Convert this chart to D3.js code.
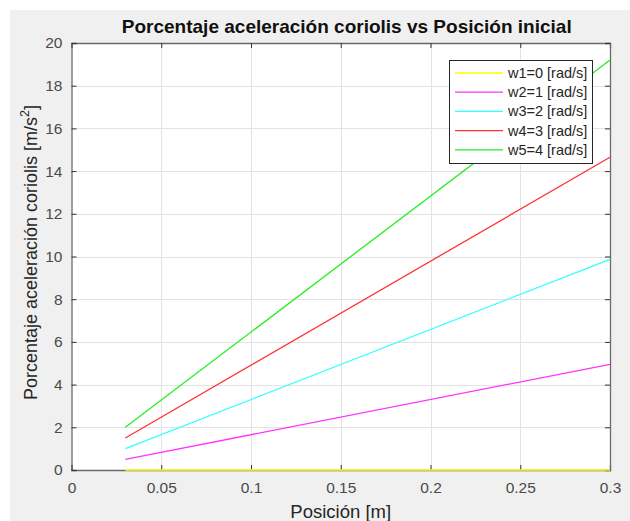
<!DOCTYPE html>
<html>
<head>
<meta charset="utf-8">
<script src="https://cdn.jsdelivr.net/npm/d3@7"></script>
<style>
  body { margin: 0; background: #fff; }
  text { font-family: Arial, "Liberation Sans", sans-serif; }
</style>
</head>
<body>
<svg id="chart" width="630" height="521"></svg>
<script>
// data (each line is straight, start + end)
const posicion = [0.03, 0.3];
const w1 = [0, 0];
const w2 = [0.5, 4.95];
const w3 = [1.0, 9.87];
const w4 = [1.5, 14.65];
const w5 = [2.0, 19.2];

const seriesNames = ["w1=0 [rad/s]", "w2=1 [rad/s]", "w3=2 [rad/s]", "w4=3 [rad/s]", "w5=4 [rad/s]"];
const seriesValues = [w1, w2, w3, w4, w5];
const seriesColors = ["#ffff00", "#ff33ff", "#33ffff", "#ff3333", "#22ee22"];

const xTicks = [0, 0.05, 0.1, 0.15, 0.2, 0.25, 0.3];
const yTicks = [0, 2, 4, 6, 8, 10, 12, 14, 16, 18, 20];

const svg = d3.select("#chart");
const W = 630, H = 521;
const m = { left: 71.5, right: 610, top: 43, bottom: 470 };

// figure background
svg.append("rect").attr("x", 10).attr("y", 10).attr("width", W - 10).attr("height", H - 10).attr("fill", "#f0f0f0");

const x = d3.scaleLinear().domain([0, 0.3]).range([m.left, m.right]);
const y = d3.scaleLinear().domain([0, 20]).range([m.bottom, m.top]);

// plot area
svg.append("rect")
  .attr("x", m.left).attr("y", m.top)
  .attr("width", m.right - m.left).attr("height", m.bottom - m.top)
  .attr("fill", "#fff");

// grid
const grid = svg.append("g");
grid.selectAll(".gx").data(xTicks.slice(1, -1)).enter().append("line")
  .attr("x1", d => Math.round(x(d)) + 0.5).attr("x2", d => Math.round(x(d)) + 0.5)
  .attr("y1", m.top).attr("y2", m.bottom)
  .attr("stroke", "#e3e3e3").attr("stroke-width", 1);
grid.selectAll(".gy").data(yTicks.slice(1, -1)).enter().append("line")
  .attr("y1", d => Math.round(y(d)) + 0.5).attr("y2", d => Math.round(y(d)) + 0.5)
  .attr("x1", m.left).attr("x2", m.right)
  .attr("stroke", "#e3e3e3").attr("stroke-width", 1);

// axes (ticks inside, like matlab)
const fmtX = d => d === 0 ? "0" : d3.format("")(+d.toFixed(2));
const xAxis = svg.append("g").attr("transform", `translate(0,${m.bottom})`)
  .call(d3.axisBottom(x).tickValues(xTicks).tickSize(-5).tickPadding(12).tickFormat(fmtX));
const xAxisTop = svg.append("g").attr("transform", `translate(0,${m.top})`)
  .call(d3.axisTop(x).tickValues(xTicks).tickSize(-5).tickFormat(""));
const yAxis = svg.append("g").attr("transform", `translate(${m.left},0)`)
  .call(d3.axisLeft(y).tickValues(yTicks).tickSize(-5).tickPadding(9));
const yAxisRight = svg.append("g").attr("transform", `translate(${m.right},0)`)
  .call(d3.axisRight(y).tickValues(yTicks).tickSize(-5).tickFormat(""));

[xAxis, xAxisTop, yAxis, yAxisRight].forEach(a => {
  a.select(".domain").attr("stroke", "#6a6a6a").attr("stroke-width", 1.3);
  a.selectAll(".tick line").attr("stroke", "#333");
  a.selectAll(".tick text").attr("fill", "#4a4a4a").style("font-size", "15.5px");
});

// lines
const line = d3.line().x((d, i) => x(posicion[i])).y(d => y(d));
seriesValues.forEach((vals, k) => {
  svg.append("path")
    .datum(vals)
    .attr("d", line)
    .attr("fill", "none")
    .attr("stroke", seriesColors[k])
    .attr("stroke-width", k === 0 ? 2 : 1.3)
    .attr("opacity", k === 0 ? 0.75 : 1);
});

// title + labels
svg.append("text")
  .attr("x", (m.left + m.right) / 2 + 6).attr("y", 33)
  .attr("text-anchor", "middle")
  .style("font-size", "19px").style("font-weight", "bold")
  .attr("fill", "#111")
  .text("Porcentaje aceleración coriolis vs Posición inicial");

svg.append("text")
  .attr("x", (m.left + m.right) / 2).attr("y", 518)
  .attr("text-anchor", "middle")
  .style("font-size", "18.5px")
  .attr("fill", "#262626")
  .text("Posición [m]");

const yl = svg.append("text")
  .attr("transform", `translate(37,${(m.top + m.bottom) / 2 - 4}) rotate(-90)`)
  .attr("text-anchor", "middle")
  .style("font-size", "18px")
  .attr("fill", "#262626");
yl.append("tspan").text("Porcentaje aceleración coriolis [m/s");
yl.append("tspan").attr("dy", -8).style("font-size", "12.5px").text("2");
yl.append("tspan").attr("dy", 8).text("]");

// legend
const lg = svg.append("g");
lg.append("rect")
  .attr("x", 449.5).attr("y", 60.5).attr("width", 143).attr("height", 103)
  .attr("fill", "#fff").attr("stroke", "#262626").attr("stroke-width", 1);
seriesNames.forEach((name, k) => {
  const ry = 73 + k * 19.2;
  lg.append("line")
    .attr("x1", 455).attr("x2", 503).attr("y1", ry).attr("y2", ry)
    .attr("stroke", seriesColors[k]).attr("stroke-width", 1.3);
  lg.append("text")
    .attr("x", 508).attr("y", ry + 5)
    .style("font-size", "14.5px")
    .attr("fill", "#262626")
    .text(name);
});
</script>
</body>
</html>
